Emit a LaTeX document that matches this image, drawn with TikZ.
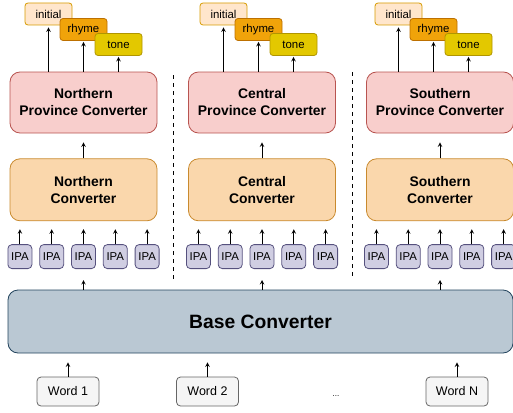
\documentclass[tikz,border=0pt]{standalone}
\usepackage{fontspec}
\setmainfont{Liberation Sans}
\usepackage{xcolor}
\usepackage{tikz}
\usetikzlibrary{shapes,arrows}
\usetikzlibrary{positioning}
\definecolor{provfill}{HTML}{F8CECC}
\definecolor{provdraw}{HTML}{B85450}
\definecolor{convfill}{HTML}{FAD7AC}
\definecolor{convdraw}{HTML}{C98A2E}
\definecolor{ipafill}{HTML}{D0CEE2}
\definecolor{ipadraw}{HTML}{56517E}
\definecolor{basefill}{HTML}{BAC8D3}
\definecolor{basedraw}{HTML}{23445D}
\definecolor{wordfill}{HTML}{F5F5F5}
\definecolor{worddraw}{HTML}{666666}
\definecolor{initfill}{HTML}{FFE6CC}
\definecolor{initdraw}{HTML}{D79B00}
\definecolor{rhymefill}{HTML}{F0A30A}
\definecolor{rhymedraw}{HTML}{BD7000}
\definecolor{tonefill}{HTML}{E3C800}
\definecolor{tonedraw}{HTML}{B09500}
\tikzstyle{province} = [rectangle, draw=provdraw, fill=provfill, line width=0.8pt,
    rounded corners=10pt, minimum width=147pt, minimum height=61pt,
    align=center, font=\fontsize{13.9}{17}\selectfont\bfseries]
\tikzstyle{converter} = [rectangle, draw=convdraw, fill=convfill, line width=0.8pt,
    rounded corners=10pt, minimum width=147pt, minimum height=62pt,
    align=center, font=\fontsize{13.9}{17}\selectfont\bfseries]
\tikzstyle{ipa} = [rectangle, draw=ipadraw, fill=ipafill, rounded corners=4pt,
    line width=0.8pt, minimum width=24pt, minimum height=24pt, inner sep=0pt,
    font=\fontsize{11.4}{13}\selectfont]
\tikzstyle{part} = [rectangle, rounded corners=3pt, minimum width=47pt,
    line width=0.8pt, minimum height=22pt, inner sep=0pt,
    font=\fontsize{11.4}{13}\selectfont]
\tikzstyle{base} = [rectangle, draw=basedraw, fill=basefill, line width=0.8pt,
    rounded corners=10pt, minimum width=505pt, minimum height=63pt,
    font=\fontsize{19.3}{22}\selectfont\bfseries]
\tikzstyle{word} = [rectangle, draw=worddraw, fill=wordfill, line width=0.8pt,
    rounded corners=4pt, minimum width=62pt, minimum height=29pt,
    inner sep=0pt, font=\fontsize{12.5}{14}\selectfont]
\tikzstyle{line} = [draw, -stealth, line width=1pt]
\tikzstyle{divider} = [draw, line width=0.7pt, dash pattern=on 4pt off 4pt]

\begin{document}
\begin{tikzpicture}[x=1pt, y=-1pt]
  \useasboundingbox (0,0) rectangle (513,412);
  % Place nodes
  \node [base] (base) at (260.5,321.5) {Base Converter};
  \node [word] (word1) at (68,391.5) {Word 1};
  \node [word] (word2) at (207.5,391.5) {Word 2};
  \node [word] (wordn) at (457,391.5) {Word N};
  \node [font=\fontsize{8}{9}\selectfont] (dots) at (336,396) {...};
  \foreach \g/\cx/\sh/\region in {n/83.5/0/Northern, c/262/3.5/Central,
                                  s/440/6.5/Southern} {
    \node [province] (\g-prov) at (\cx,102.5) {\region\\Province Converter};
    \node [converter, below=25pt of \g-prov] (\g-conv) {\region\\Converter};
    \node [ipa, below=23pt of \g-conv] (\g-ipa3) {IPA};
    \node [ipa, left=7pt of \g-ipa3] (\g-ipa2) {IPA};
    \node [ipa, left=7pt of \g-ipa2] (\g-ipa1) {IPA};
    \node [ipa, right=7pt of \g-ipa3] (\g-ipa4) {IPA};
    \node [ipa, right=7pt of \g-ipa4] (\g-ipa5) {IPA};
    \node [part, draw=initdraw, fill=initfill] (\g-init)
      at (\cx-35-\sh,14) {initial};
    \node [part, draw=rhymedraw, fill=rhymefill] (\g-rhyme)
      at (\cx-\sh,29.5) {rhyme};
    \node [part, draw=tonedraw, fill=tonefill] (\g-tone)
      at (\cx+35-\sh,44.5) {tone};
    % Draw edges
    \path[line, shorten >=2pt] (\g-init |- \g-prov.north) -- (\g-init.south);
    \path[line, shorten >=1pt] (\g-rhyme |- \g-prov.north) -- (\g-rhyme.south);
    \path[line, shorten >=1pt] (\g-tone |- \g-prov.north) -- (\g-tone.south);
    \path[line, shorten >=9pt] (\g-conv.north) -- (\g-prov.south);
    \foreach \i in {1,...,5}
      \path[line, shorten >=8pt] (\g-ipa\i.north) -- (\g-ipa\i |- \g-conv.south);
    \path[line, shorten >=11pt] (\g-ipa3 |- base.north) -- (\g-ipa3.south);
  }
  \path[line, shorten >=9pt] (word1.north) -- (word1 |- base.south);
  \path[line, shorten >=9pt] (word2.north) -- (word2 |- base.south);
  \path[line, shorten >=9pt] (wordn.north) -- (wordn |- base.south);
  % Region dividers
  \path[divider] (173,75) -- (173,281);
  \path[divider] (352,72) -- (352,278);
\end{tikzpicture}
\end{document}
